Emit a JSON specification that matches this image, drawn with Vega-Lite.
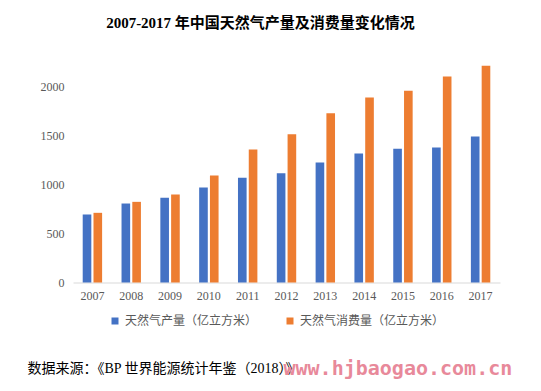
{
  "$schema": "https://vega.github.io/schema/vega-lite/v6.json",
  "width": 427,
  "height": 220.5,
  "autosize": {"type": "none"},
  "padding": {"left": 73, "top": 62, "right": 41, "bottom": 108.5},
  "background": "white",
  "title": {
    "text": "2007-2017 年中国天然气产量及消费量变化情况",
    "font": "Liberation Serif, Noto Sans CJK SC",
    "fontSize": 15,
    "fontWeight": "bold",
    "color": "#000000",
    "anchor": "middle",
    "dx": -26,
    "offset": 16,
    "baseline": "bottom"
  },
  "data": {
    "values": [
      {"year": "2007", "series": "天然气产量（亿立方米）", "value": 694},
      {"year": "2007", "series": "天然气消费量（亿立方米）", "value": 711},
      {"year": "2008", "series": "天然气产量（亿立方米）", "value": 806},
      {"year": "2008", "series": "天然气消费量（亿立方米）", "value": 823},
      {"year": "2009", "series": "天然气产量（亿立方米）", "value": 864},
      {"year": "2009", "series": "天然气消费量（亿立方米）", "value": 898},
      {"year": "2010", "series": "天然气产量（亿立方米）", "value": 969},
      {"year": "2010", "series": "天然气消费量（亿立方米）", "value": 1092},
      {"year": "2011", "series": "天然气产量（亿立方米）", "value": 1068},
      {"year": "2011", "series": "天然气消费量（亿立方米）", "value": 1357},
      {"year": "2012", "series": "天然气产量（亿立方米）", "value": 1115},
      {"year": "2012", "series": "天然气消费量（亿立方米）", "value": 1513},
      {"year": "2013", "series": "天然气产量（亿立方米）", "value": 1224},
      {"year": "2013", "series": "天然气消费量（亿立方米）", "value": 1728},
      {"year": "2014", "series": "天然气产量（亿立方米）", "value": 1316},
      {"year": "2014", "series": "天然气消费量（亿立方米）", "value": 1888},
      {"year": "2015", "series": "天然气产量（亿立方米）", "value": 1364},
      {"year": "2015", "series": "天然气消费量（亿立方米）", "value": 1956},
      {"year": "2016", "series": "天然气产量（亿立方米）", "value": 1378},
      {"year": "2016", "series": "天然气消费量（亿立方米）", "value": 2102},
      {"year": "2017", "series": "天然气产量（亿立方米）", "value": 1490},
      {"year": "2017", "series": "天然气消费量（亿立方米）", "value": 2211}
    ]
  },
  "mark": {"type": "bar"},
  "encoding": {
    "x": {
      "field": "year",
      "type": "nominal",
      "scale": {"paddingInner": 0.5, "paddingOuter": 0.25},
      "axis": {
        "title": "数据来源：《BP 世界能源统计年鉴（2018）》",
        "titleFont": "Liberation Serif, Noto Sans CJK SC",
        "titleFontSize": 14,
        "titleFontWeight": "normal",
        "titleColor": "#000000",
        "titleAnchor": "start",
        "titleAlign": "left",
        "titleBaseline": "alphabetic",
        "titleX": -46,
        "titleY": 90,
        "labelAngle": 0,
        "labelFont": "Liberation Serif",
        "labelFontSize": 12,
        "labelColor": "#595959",
        "labelPadding": 8,
        "ticks": false,
        "domainColor": "#d9d9d9",
        "domainWidth": 1,
        "grid": false
      }
    },
    "xOffset": {
      "field": "series",
      "type": "nominal",
      "scale": {"paddingInner": 0.2, "paddingOuter": 0}
    },
    "y": {
      "field": "value",
      "type": "quantitative",
      "scale": {"domain": [0, 2250], "nice": false},
      "axis": {
        "values": [0, 500, 1000, 1500, 2000],
        "format": "d",
        "title": "www.hjbaogao.com.cn",
        "titleAngle": 0,
        "titleX": 210,
        "titleY": 312,
        "titleAlign": "left",
        "titleBaseline": "alphabetic",
        "titleFont": "DejaVu Sans Mono",
        "titleFontSize": 20,
        "titleFontWeight": "bold",
        "titleColor": "#e8899a",
        "labelFont": "Liberation Serif",
        "labelFontSize": 12,
        "labelColor": "#595959",
        "labelPadding": 9,
        "ticks": false,
        "domain": false,
        "grid": false
      }
    },
    "color": {
      "field": "series",
      "type": "nominal",
      "scale": {
        "domain": ["天然气产量（亿立方米）", "天然气消费量（亿立方米）"],
        "range": ["#4472C4", "#ED7D31"]
      },
      "legend": {
        "title": null,
        "orient": "none",
        "legendX": 36,
        "legendY": 253,
        "direction": "horizontal",
        "symbolType": "square",
        "symbolSize": 49,
        "symbolStrokeWidth": 0,
        "labelFont": "Noto Sans CJK SC",
        "labelFontSize": 12,
        "labelColor": "#595959",
        "labelOffset": 4,
        "labelLimit": 300,
        "columnPadding": 26
      }
    }
  },
  "config": {"view": {"stroke": null}}
}
